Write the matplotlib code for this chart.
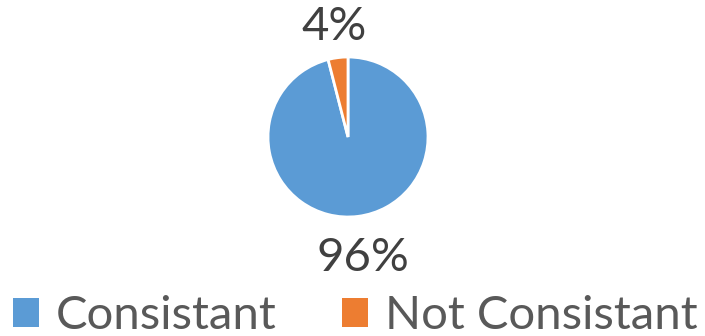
import numpy as np
import matplotlib.pyplot as plt
from matplotlib.patches import Patch

labels = ['Consistant', 'Not Consistant']
shares = [96, 4]
colors = ['#5b9bd5', '#ed7d31']

plt.rcParams['font.family'] = ['Lato', 'DejaVu Sans']

fig = plt.figure(figsize=(7.05, 3.36), dpi=100)
W, H = 705, 336
cx, cy, r = 348, 137, 80
# axes sized so that one data unit equals the pie radius
ax = fig.add_axes([(cx - 2 * r) / W, (H - cy - 2 * r) / H, 4 * r / W, 4 * r / H])
wedges, _ = ax.pie(shares, colors=colors, startangle=90, counterclock=False,
                   radius=1, wedgeprops=dict(edgecolor='white', linewidth=2))
ax.set_xlim(-2, 2)
ax.set_ylim(-2, 2)
ax.set_aspect('equal')
ax.axis('off')

# percentage labels outside each slice
dists = [1.52, 1.38]
for w, v, d in zip(wedges, shares, dists):
    ang = np.deg2rad((w.theta1 + w.theta2) / 2)
    ax.text(d * np.cos(ang), d * np.sin(ang), f'{v}%', ha='center', va='center',
            fontsize=34, color='#404040', clip_on=False)

handles = [Patch(facecolor=c) for c in colors]
fig.legend(handles, labels, loc='center', bbox_to_anchor=(0.504, 1 - 316 / H),
           ncol=2, frameon=False, fontsize=34, labelcolor='#595959',
           handlelength=0.55, handleheight=0.55, handletextpad=0.36,
           columnspacing=1.4, borderpad=0)

fig.savefig('out.png', dpi=100)
